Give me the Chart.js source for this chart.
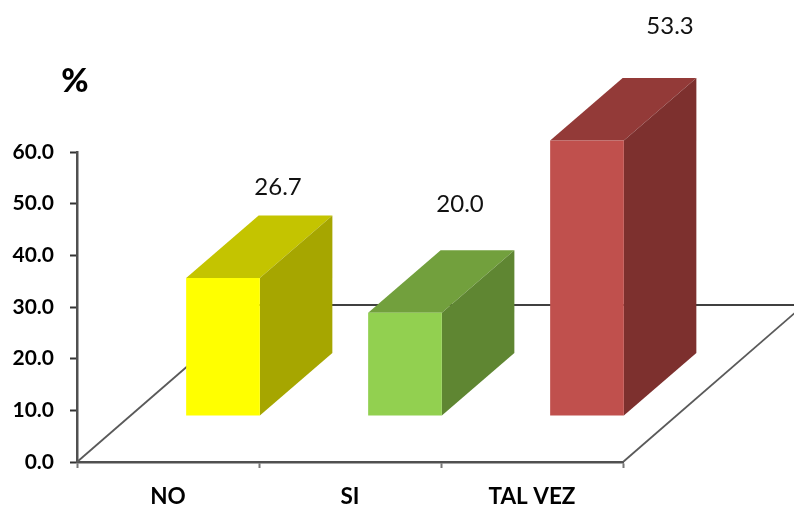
<!DOCTYPE html>
<html lang="es">
<head>
<meta charset="utf-8">
<title>Respuestas (%)</title>
<script src="https://cdn.jsdelivr.net/npm/chart.js@4"></script>
<style>
  html, body { margin: 0; padding: 0; background: #fff; }
  canvas { display: block; }
</style>
</head>
<body>
<canvas id="chart" width="794" height="506"></canvas>
<script>
// Chart content
const categories = ["NO", "SI", "TAL VEZ"];
const percentages = [26.7, 20.0, 53.3];
const yTicks = [0, 10, 20, 30, 40, 50, 60];

// Face colours of each box
const frontColors = ["#FFFF00", "#92D050", "#C0504D"];
const topColors = ["#C4C400", "#72A03D", "#933A38"];
const sideColors = ["#A6A600", "#5F8632", "#7D302E"];

// Pseudo-3D projection, in pixels
const boxDepth = { x: 72.5, y: -62.5 };
const boxShift = { x: 55, y: -46 };
const floorDepth = { x: 181, y: -157 };
const valueLabelNudge = [{ x: 55, y: -91 }, { x: 55, y: -108 }, { x: 83, y: -114 }];

const axisColor = "#505050";
const fontFamily = "Lato, 'Open Sans', sans-serif";

function strokeSegment(ctx, x0, y0, x1, y1, color, width) {
  ctx.strokeStyle = color;
  ctx.lineWidth = width;
  ctx.beginPath();
  ctx.moveTo(x0, y0);
  ctx.lineTo(x1, y1);
  ctx.stroke();
}

function fillPolygon(ctx, points, color) {
  ctx.fillStyle = color;
  ctx.beginPath();
  points.forEach(([x, y], i) => (i ? ctx.lineTo(x, y) : ctx.moveTo(x, y)));
  ctx.closePath();
  ctx.fill();
}

// Draws the floor outline, then lifts the bars onto it and adds their top and side faces.
const boxes3d = {
  id: "boxes3d",
  beforeDatasetsDraw(chart) {
    const { ctx, scales } = chart;
    const left = scales.x.left;
    const right = scales.x.right;
    const floorY = scales.y.getPixelForValue(0);
    const backY = floorY + floorDepth.y;

    strokeSegment(ctx, left, floorY, left + floorDepth.x, backY, "#5a5a5a", 1.8);
    strokeSegment(ctx, right, floorY, right + floorDepth.x, backY, "#5a5a5a", 1.8);
    strokeSegment(ctx, left + floorDepth.x, backY, right + floorDepth.x, backY, "#404040", 2);

    ctx.save();
    ctx.translate(boxShift.x, boxShift.y);
    chart.getDatasetMeta(0).data.forEach((bar, i) => {
      const x0 = bar.x - bar.width / 2;
      const x1 = bar.x + bar.width / 2;
      const dx = boxDepth.x;
      const dy = boxDepth.y;
      fillPolygon(ctx, [[x0, bar.y], [x0 + dx, bar.y + dy], [x1 + dx, bar.y + dy], [x1, bar.y]], topColors[i]);
      fillPolygon(ctx, [[x1, bar.y], [x1 + dx, bar.y + dy], [x1 + dx, bar.base + dy], [x1, bar.base]], sideColors[i]);
    });
  },
  afterDatasetsDraw(chart) {
    const { ctx } = chart;
    ctx.restore();

    ctx.fillStyle = "#111111";
    ctx.font = "24px " + fontFamily;
    ctx.textAlign = "center";
    ctx.textBaseline = "middle";
    chart.getDatasetMeta(0).data.forEach((bar, i) => {
      const nudge = valueLabelNudge[i];
      ctx.fillText(percentages[i].toFixed(1), bar.x + boxShift.x + nudge.x, bar.y + boxShift.y + nudge.y);
    });

    ctx.fillStyle = "#000000";
    ctx.font = "900 33px " + fontFamily;
    ctx.fillText("%", 75, 81);
  }
};

new Chart(document.getElementById("chart"), {
  type: "bar",
  data: {
    labels: categories,
    datasets: [{
      data: percentages,
      backgroundColor: frontColors,
      borderWidth: 0,
      barPercentage: 0.405,
      categoryPercentage: 1,
      clip: false
    }]
  },
  options: {
    responsive: false,
    animation: false,
    devicePixelRatio: 1,
    layout: { padding: { left: 0, right: 171, top: 152, bottom: 0 } },
    plugins: { legend: { display: false }, tooltip: { enabled: false } },
    scales: {
      x: {
        grid: { drawOnChartArea: false, color: "#777777", tickColor: "#777777", tickWidth: 2, tickLength: 6 },
        border: { color: axisColor, width: 2.5 },
        ticks: { color: "#000000", padding: 15, font: { family: fontFamily, size: 22.5, weight: "bold" }, maxRotation: 0 },
        afterFit(scale) { scale.height = 44; }
      },
      y: {
        min: yTicks[0],
        max: yTicks[yTicks.length - 1],
        afterBuildTicks(scale) { scale.ticks = yTicks.map(value => ({ value })); },
        grid: { drawOnChartArea: false, color: "#333333", tickColor: "#333333", tickWidth: 2, tickLength: 7 },
        border: { color: axisColor, width: 2.5 },
        ticks: {
          color: "#000000",
          padding: 16,
          font: { family: fontFamily, size: 21, weight: "bold" },
          callback: value => value.toFixed(1)
        },
        afterFit(scale) { scale.width = 77; }
      }
    }
  },
  plugins: [boxes3d]
});
</script>
</body>
</html>
